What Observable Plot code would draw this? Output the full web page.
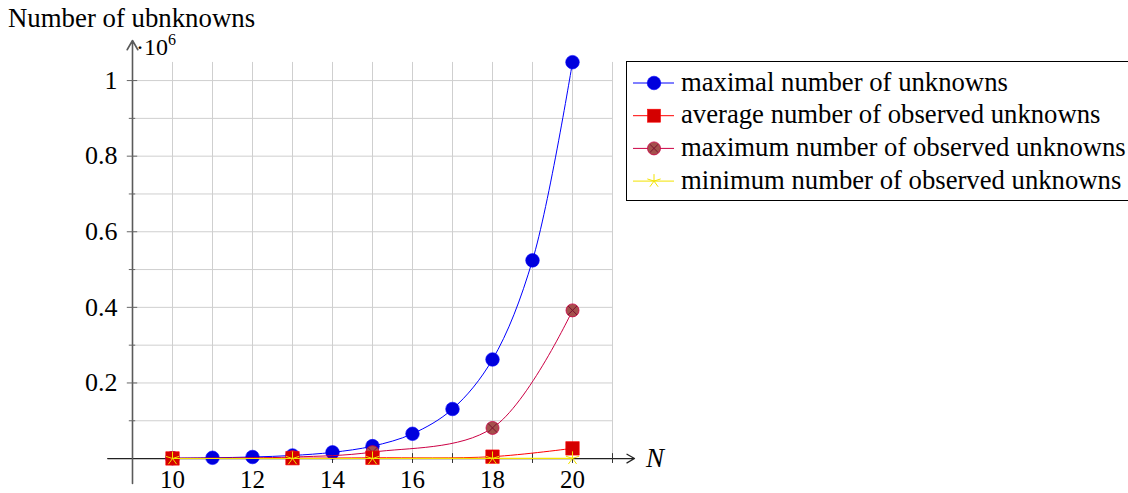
<!DOCTYPE html>
<html><head><meta charset="utf-8">
<script src="https://cdn.jsdelivr.net/npm/d3@7"></script>
<script src="https://cdn.jsdelivr.net/npm/@observablehq/plot@0.6"></script>
<style>
html,body{margin:0;padding:0;background:#fff;overflow:hidden;font-family:'Liberation Serif';}
#wrap{position:relative;width:1128px;height:493px;font-family:'Liberation Serif';}
#ytitle{position:absolute;left:8px;top:3px;font-family:'Liberation Serif';font-size:26.8px;line-height:30px;color:#000;white-space:nowrap;z-index:2;}
</style></head><body><div id="wrap"><div id="ytitle">Number of ubnknowns</div></div>
<script>
// ---- data ----
const Ns = [10, 11, 12, 13, 14, 15, 16, 17, 18, 19, 20];
const maximalUnknowns = [0.001024, 0.002048, 0.004096, 0.008192, 0.016384, 0.032768, 0.065536, 0.131072, 0.262144, 0.524288, 1.048576];
const observedNs = [10, 13, 15, 18, 20];
const averageObserved = [0.0003, 0.001, 0.002, 0.005, 0.027];
const maximumObserved = [0.001, 0.004, 0.017, 0.081, 0.392];
const minimumObserved = [0.0001, 0.0001, 0.0002, 0.0003, 0.0005];
const seriesNames = ["maximal number of unknowns", "average number of observed unknowns", "maximum number of observed unknowns", "minimum number of observed unknowns"];
const xTickLabels = [10, 12, 14, 16, 18, 20];
const xTicks = [10, 11, 12, 13, 14, 15, 16, 17, 18, 19, 20, 21];
const yTickLabels = [0.2, 0.4, 0.6, 0.8, 1];
const yMinorTicks = [0.1, 0.3, 0.5, 0.7, 0.9];
const yGrid = [0.1, 0.2, 0.3, 0.4, 0.5, 0.6, 0.7, 0.8, 0.9, 1.0];
const xLabel = "N";

// ---- layout constants ----
const XMIN = 8.3, XAXIS = 9, XGRID = 21, XEND = 21.55, XSTART = 8.38;
const YMIN = -0.066, YTOP = 1.106, YGRIDTOP = 1.048;

const colors = {
  blue: "#0000ff", blueMark: "#0000dd",
  red: "#ff0000", redMark: "#d40000",
  crimson: "#cc0044", brown: "#a4504c",
  yellow: "#f2e200"
};

const star5 = {
  draw(ctx, size) {
    const r = Math.sqrt(size / Math.PI);
    for (let k = 0; k < 5; k++) {
      const a = -Math.PI / 2 + k * 2 * Math.PI / 5;
      ctx.moveTo(0, 0);
      ctx.lineTo(r * Math.cos(a), r * Math.sin(a));
    }
  }
};

const maxData = Ns.map((n, i) => ({x: n, y: maximalUnknowns[i]}));
const avgData = observedNs.map((n, i) => ({x: n, y: averageObserved[i]}));
const maxObsData = observedNs.map((n, i) => ({x: n, y: maximumObserved[i]}));
const minData = observedNs.map((n, i) => ({x: n, y: minimumObserved[i]}));

const FONT = "Liberation Serif";

const plot = Plot.plot({
  width: 1128, height: 493,
  marginLeft: 104, marginRight: 494, marginTop: 40, marginBottom: 10,
  x: {domain: [XMIN, XEND], axis: null},
  y: {domain: [YMIN, YTOP], axis: null},
  style: "font-family: 'Liberation Serif'; font-size: 26px; background: #fff; overflow: visible; color: #000;",
  marks: [
    // grid
    Plot.ruleY(yGrid, {y: d => d, x1: XAXIS, x2: XGRID, stroke: "#cfcfcf", strokeWidth: 1}),
    Plot.ruleX(xTicks, {x: d => d, y1: 0, y2: YGRIDTOP, stroke: "#cfcfcf", strokeWidth: 1}),
    // axes
    Plot.arrow([0], {x1: XSTART, x2: XEND, y1: 0, y2: 0, stroke: "#222", strokeWidth: 1.3, headLength: 10}),
    Plot.arrow([0], {x1: XAXIS, x2: XAXIS, y1: YMIN, y2: YTOP, stroke: "#5a5a5a", strokeWidth: 1.6, headLength: 10}),
    // ticks
    Plot.ruleX(xTicks, {x: d => d, y1: -0.013, y2: 0.013, stroke: "#333", strokeWidth: 1}),
    Plot.ruleY(yTickLabels, {y: d => d, x1: XAXIS - 0.13, x2: XAXIS + 0.13, stroke: "#666", strokeWidth: 1}),
    Plot.ruleY(yMinorTicks, {y: d => d, x1: XAXIS - 0.08, x2: XAXIS + 0.08, stroke: "#666", strokeWidth: 1}),
    // tick labels
    Plot.text(xTickLabels, {x: d => d, y: 0, dy: 21, text: d => String(d), fontSize: 25, fontFamily: FONT, fill: "#000"}),
    Plot.text(yTickLabels, {x: XAXIS, y: d => d, dx: -15, textAnchor: "end", text: d => String(d), fontSize: 26, fontFamily: FONT, fill: "#000"}),
    // series: maximal
    Plot.line(maxData, {x: "x", y: "y", stroke: colors.blue, strokeWidth: 1, curve: "catmull-rom"}),
    Plot.dot(maxData, {x: "x", y: "y", r: 6.8, fill: colors.blueMark, stroke: colors.blue, strokeWidth: 0.6}),
    // maximum observed
    Plot.line(maxObsData, {x: "x", y: "y", stroke: colors.crimson, strokeWidth: 1, curve: "catmull-rom"}),
    Plot.dot(maxObsData, {x: "x", y: "y", r: 6.5, fill: colors.brown, stroke: colors.crimson, strokeWidth: 0.8}),
    Plot.dot(maxObsData, {x: "x", y: "y", r: 4.2, symbol: "times", stroke: "#7a1030", strokeWidth: 1}),
    // average observed
    Plot.line(avgData, {x: "x", y: "y", stroke: colors.red, strokeWidth: 1, curve: "catmull-rom"}),
    Plot.dot(avgData, {x: "x", y: "y", r: 7.6, symbol: "square", fill: colors.redMark, stroke: colors.red, strokeWidth: 0.6}),
    // minimum observed
    Plot.line(minData, {x: "x", y: "y", stroke: colors.yellow, strokeWidth: 1.2, curve: "catmull-rom"}),
    Plot.dot(minData, {x: "x", y: "y", r: 7, symbol: star5, fill: "none", stroke: colors.yellow, strokeWidth: 1})
  ]
});

const wrap = document.getElementById("wrap");
wrap.appendChild(plot);

// axis labels positioned through the scales
const xs = plot.scale("x"), ys = plot.scale("y");
const svg = d3.select(plot);
const mult = svg.append("text").attr("x", xs.apply(XAXIS) + 4).attr("y", ys.apply(YTOP) + 15)
  .attr("text-anchor", "start").attr("font-family", FONT).attr("font-size", 24).attr("fill", "#000");
mult.append("tspan").text("·10");
mult.append("tspan").attr("font-size", 16).attr("dy", -10).text("6");
svg.append("text").attr("x", xs.apply(XEND) + 12).attr("y", ys.apply(0) + 9).attr("text-anchor", "start")
  .attr("font-family", FONT).attr("font-size", 27).attr("font-style", "italic").attr("fill", "#000").text(xLabel);

// legend
const legend = d3.create("svg").attr("width", 520).attr("height", 142)
  .style("position", "absolute").style("left", "626px").style("top", "61px");
legend.append("rect").attr("x", 0.5).attr("y", 0.5).attr("width", 530).attr("height", 139)
  .attr("fill", "#fff").attr("stroke", "#000").attr("stroke-width", 1);
const legendStyles = [
  {stroke: colors.blue, kind: "circle"},
  {stroke: colors.red, kind: "square"},
  {stroke: colors.crimson, kind: "ocross"},
  {stroke: colors.yellow, kind: "star"}
];
seriesNames.forEach((name, i) => {
  const cy = 22 + i * 32.7;
  const g = legend.append("g");
  const st = legendStyles[i];
  g.append("line").attr("x1", 7).attr("x2", 48).attr("y1", cy).attr("y2", cy).attr("stroke", st.stroke).attr("stroke-width", 1);
  const cx = 28;
  if (st.kind === "circle") {
    g.append("circle").attr("cx", cx).attr("cy", cy).attr("r", 6.8).attr("fill", colors.blueMark).attr("stroke", colors.blue).attr("stroke-width", 0.6);
  } else if (st.kind === "square") {
    g.append("rect").attr("x", cx - 6.5).attr("y", cy - 6.5).attr("width", 13).attr("height", 13).attr("fill", colors.redMark).attr("stroke", colors.red).attr("stroke-width", 0.6);
  } else if (st.kind === "ocross") {
    g.append("circle").attr("cx", cx).attr("cy", cy).attr("r", 6.5).attr("fill", colors.brown).attr("stroke", colors.crimson).attr("stroke-width", 0.8);
    const d = 4.2 / Math.SQRT2 * 1.3;
    g.append("path").attr("d", `M${cx - d},${cy - d}L${cx + d},${cy + d}M${cx - d},${cy + d}L${cx + d},${cy - d}`).attr("stroke", "#7a1030").attr("stroke-width", 1);
  } else {
    let p = "";
    for (let k = 0; k < 5; k++) {
      const a = -Math.PI / 2 + k * 2 * Math.PI / 5;
      p += `M${cx},${cy}L${cx + 7 * Math.cos(a)},${cy + 7 * Math.sin(a)}`;
    }
    g.append("path").attr("d", p).attr("stroke", colors.yellow).attr("stroke-width", 1).attr("fill", "none");
  }
  g.append("text").attr("x", 55).attr("y", cy + 7.5).attr("text-anchor", "start").attr("font-family", FONT)
    .attr("font-size", 26.7).attr("fill", "#000").text(name);
});
wrap.appendChild(legend.node());
</script>
</body></html>
